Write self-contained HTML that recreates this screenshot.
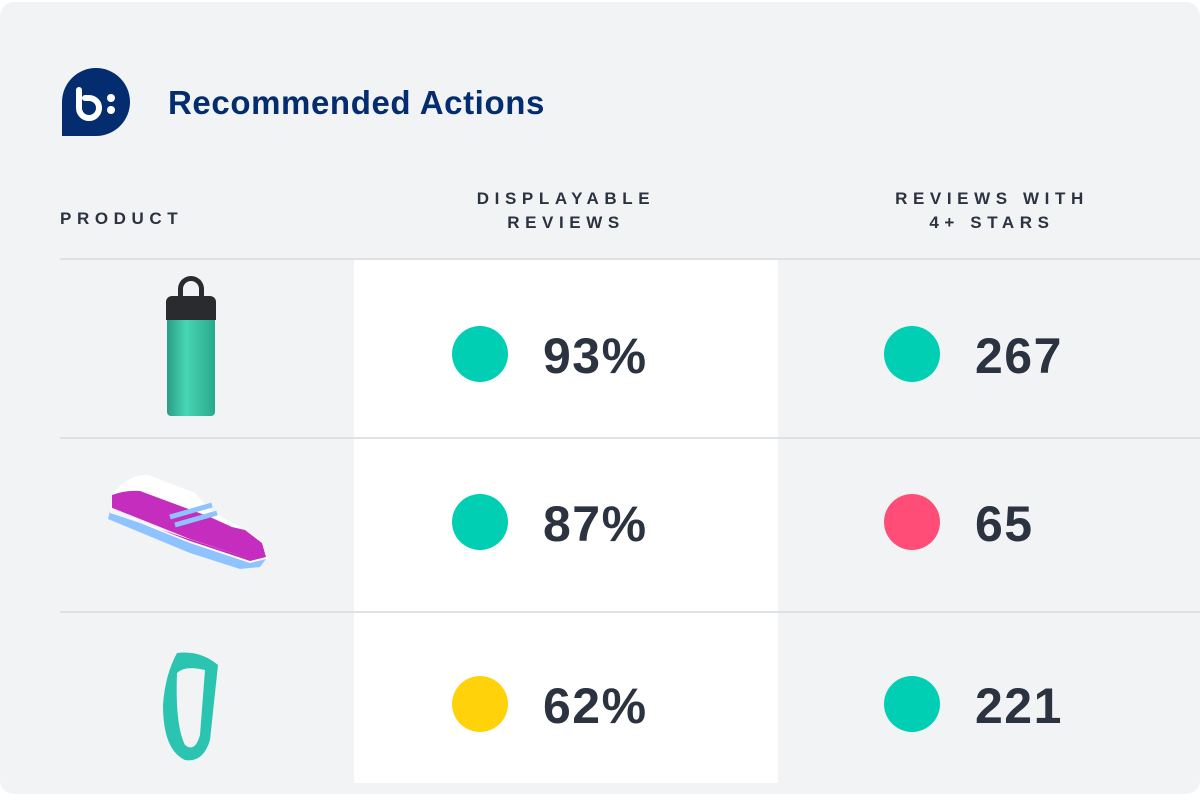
<!DOCTYPE html>
<html><head><style>
body{margin:0;width:1200px;height:802px;background:#fff;font-family:"Liberation Sans",sans-serif;position:relative;overflow:hidden}
.card{position:absolute;left:0;top:2px;width:1200px;height:792px;background:#f2f3f5;border-radius:14px}
.a{position:absolute}
.h{font-weight:bold;font-size:17px;letter-spacing:5.6px;color:#2b3240;text-align:center;line-height:24px}
.line{position:absolute;left:60px;width:1140px;height:2px;background:#e0e1e4}
.dot{position:absolute;width:56px;height:56px;border-radius:50%}
.n{position:absolute;font-weight:bold;font-size:50px;letter-spacing:1.5px;color:#2b3240;line-height:56px}
</style></head><body>
<div class="card"></div>
<svg class="a" style="left:62px;top:68px" width="68" height="68" viewBox="0 0 68 68">
<path d="M0 68V34A34 34 0 1 1 34 68Z" fill="#032d6e"/>
<path d="M17 22v18a10 10 0 1 0 10-10h-4" fill="none" stroke="#fff" stroke-width="6" stroke-linecap="round"/>
<circle cx="49" cy="30" r="4" fill="#fff"/><circle cx="49" cy="42" r="4" fill="#fff"/>
</svg>
<div class="a" style="left:168px;top:84px;font-size:33px;font-weight:bold;color:#032d6e;letter-spacing:0.6px">Recommended Actions</div>
<div class="a h" style="left:60px;top:207px;text-align:left">PRODUCT</div>
<div class="a h" style="left:354px;top:187px;width:424px">DISPLAYABLE<br>REVIEWS</div>
<div class="a h" style="left:780px;top:187px;width:424px">REVIEWS WITH<br>4+ STARS</div>
<div class="a" style="left:354px;top:260px;width:424px;height:523px;background:#fff"></div>
<div class="line" style="top:258px"></div>
<div class="line" style="top:437px"></div>
<div class="line" style="top:611px"></div>
<div class="a" style="left:178px;top:276px;width:26px;height:22px;border:5px solid #2a2b2e;border-bottom:none;border-radius:14px 14px 0 0;box-sizing:border-box"></div>
<div class="a" style="left:166px;top:296px;width:50px;height:24px;background:#2a2b2e;border-radius:6px 6px 0 0"></div>
<div class="a" style="left:167px;top:320px;width:48px;height:96px;background:linear-gradient(90deg,#2a9e86,#47d6b4 40%,#2aa88b);border-radius:0 0 4px 4px"></div>
<svg class="a" style="left:100px;top:455px" width="180" height="120" viewBox="0 0 180 120">
<path d="M12 40 Q30 18 48 20 L95 38 L110 55 L162 85 L168 104 L150 108 L90 88 L10 58Z" fill="#ffffff"/>
<path d="M12 40 Q25 35 40 36 L110 62 L132 72 L145 75 L162 88 L166 102 L150 106 L90 86 L12 56Z" fill="#c42dbd"/>
<path d="M10 56 L90 88 L150 108 L166 104 L160 112 L140 114 L90 98 L8 64Z" fill="#8fc3ff"/>
<path d="M10 52 L90 84 L150 104 L10 58Z" fill="#f5f5f7"/>
<path d="M70 62 L112 50 M75 70 L117 58" stroke="#8fc3ff" stroke-width="5"/>
</svg>
<svg class="a" style="left:155px;top:645px" width="70" height="125" viewBox="0 0 70 125">
<path d="M22 8 Q10 30 8 60 Q8 105 30 115 Q48 118 55 95 L63 20 Q45 5 22 8Z M22 28 Q30 20 50 25 L45 90 Q40 108 30 100 Q20 80 22 28Z" fill="#2ac4b0" fill-rule="evenodd"/>
</svg>
<div class="dot" style="left:452px;top:326px;background:#00cfb3"></div><div class="n" style="left:543px;top:328px">93%</div>
<div class="dot" style="left:884px;top:326px;background:#00cfb3"></div><div class="n" style="left:975px;top:328px">267</div>
<div class="dot" style="left:452px;top:494px;background:#00cfb3"></div><div class="n" style="left:543px;top:496px">87%</div>
<div class="dot" style="left:884px;top:494px;background:#ff4d77"></div><div class="n" style="left:975px;top:496px">65</div>
<div class="dot" style="left:452px;top:676px;background:#ffd20a"></div><div class="n" style="left:543px;top:678px">62%</div>
<div class="dot" style="left:884px;top:676px;background:#00cfb3"></div><div class="n" style="left:975px;top:678px">221</div>
</body></html>
